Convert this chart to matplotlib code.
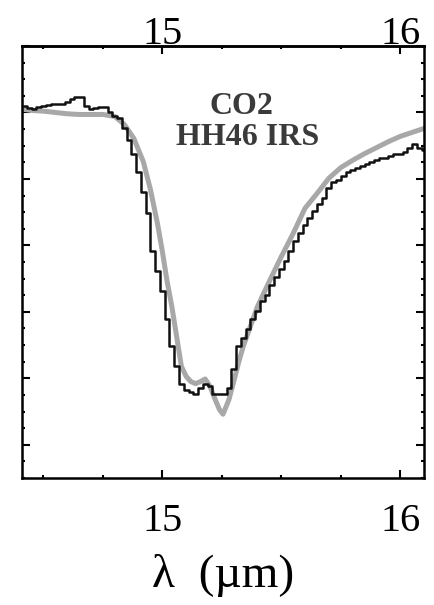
#!/usr/bin/env python3

import matplotlib.pyplot as plt
from matplotlib.ticker import FixedLocator, MultipleLocator, NullFormatter

# observed spectrum (histogram), wavelength in micron, normalised flux
obs_wave = [
    14.42, 14.44, 14.46, 14.48, 14.50, 14.52, 14.54, 14.56, 14.58, 14.60,
    14.62, 14.64, 14.66, 14.68, 14.70, 14.72, 14.74, 14.76, 14.78, 14.80,
    14.82, 14.84, 14.86, 14.88, 14.90, 14.92, 14.94, 14.96, 14.98, 15.00,
    15.02, 15.04, 15.06, 15.08, 15.10, 15.12, 15.14, 15.16, 15.18, 15.20,
    15.22, 15.24, 15.26, 15.28, 15.30, 15.32, 15.34, 15.36, 15.38, 15.40,
    15.42, 15.44, 15.46, 15.48, 15.50, 15.52, 15.54, 15.56, 15.58, 15.60,
    15.62, 15.64, 15.66, 15.68, 15.70, 15.72, 15.74, 15.76, 15.78, 15.80,
    15.82, 15.84, 15.86, 15.88, 15.90, 15.92, 15.94, 15.96, 15.98, 16.00,
    16.02, 16.04, 16.06, 16.08, 16.10,
]
obs_flux = [
    1.009, 1.006, 1.005, 1.008, 1.009, 1.011, 1.012, 1.012, 1.012, 1.015,
    1.020, 1.024, 1.023, 1.009, 1.005, 1.006, 1.008, 1.008, 1.000, 0.995,
    0.991, 0.977, 0.959, 0.938, 0.911, 0.881, 0.848, 0.791, 0.761, 0.731,
    0.689, 0.648, 0.618, 0.591, 0.583, 0.580, 0.576, 0.585, 0.592, 0.588,
    0.577, 0.576, 0.576, 0.585, 0.614, 0.648, 0.660, 0.674, 0.689, 0.701,
    0.716, 0.726, 0.741, 0.753, 0.765, 0.776, 0.791, 0.806, 0.818, 0.830,
    0.841, 0.851, 0.863, 0.872, 0.887, 0.895, 0.899, 0.905, 0.911, 0.914,
    0.917, 0.919, 0.922, 0.926, 0.928, 0.931, 0.932, 0.935, 0.937, 0.938,
    0.940, 0.946, 0.953, 0.947, 0.944,
]

# laboratory ice model
lab_wave = [
    14.41, 14.45, 14.50, 14.55, 14.60, 14.65, 14.70, 14.75, 14.80, 14.84,
    14.88, 14.92, 14.95, 14.98, 15.00, 15.02, 15.04, 15.06, 15.08, 15.10,
    15.12, 15.14, 15.16, 15.18, 15.20, 15.22, 15.24, 15.255, 15.28, 15.30,
    15.32, 15.34, 15.36, 15.40, 15.45, 15.50, 15.55, 15.60, 15.65, 15.70,
    15.75, 15.80, 15.85, 15.90, 15.95, 16.00, 16.05, 16.10,
]
lab_flux = [
    1.005, 1.003, 1.002, 1.000, 0.998, 0.997, 0.997, 0.997, 0.994, 0.982,
    0.961, 0.926, 0.884, 0.832, 0.791, 0.746, 0.708, 0.663, 0.618, 0.603,
    0.595, 0.592, 0.595, 0.599, 0.588, 0.570, 0.553, 0.546, 0.568, 0.595,
    0.623, 0.648, 0.668, 0.708, 0.746, 0.783, 0.818, 0.856, 0.878, 0.901,
    0.917, 0.928, 0.938, 0.947, 0.956, 0.964, 0.970, 0.976,
]

major_waves = [15, 16]

plt.rcParams["font.family"] = ["Liberation Serif", "DejaVu Serif"]

fig = plt.figure(figsize=(4.34, 6.05), dpi=100)
ax = fig.add_axes([22 / 434, 127 / 605, 402 / 434, 432 / 605])

ax.plot(lab_wave, lab_flux, color="#a8a8a8", lw=3.6, solid_capstyle="round")
ax.plot(obs_wave, obs_flux, color="#111111", lw=1.8, drawstyle="steps-mid")

ax.set_xlim(14.41, 16.10)
ax.set_ylim(0.45, 1.10)

ax.xaxis.set_major_locator(FixedLocator(major_waves))
ax.xaxis.set_minor_locator(MultipleLocator(0.25))
ax.yaxis.set_major_locator(MultipleLocator(0.1))
ax.yaxis.set_minor_locator(MultipleLocator(0.025))
ax.yaxis.set_major_formatter(NullFormatter())

ax.tick_params(which="both", direction="in", top=False, right=True, width=1.5)
ax.tick_params(which="major", length=6)
ax.tick_params(which="minor", length=2.5)
ax.tick_params(axis="x", which="major", labelsize=29, pad=18)

# top axis carries its own labels, sitting right on the frame
top = ax.secondary_xaxis("top")
top.xaxis.set_major_locator(FixedLocator(major_waves))
top.xaxis.set_minor_locator(MultipleLocator(0.25))
top.tick_params(which="both", direction="in", width=1.5)
top.tick_params(which="major", length=6, labelsize=29, pad=-5)
top.tick_params(which="minor", length=2.5)
top.spines["top"].set_linewidth(1.8)

for s in ax.spines.values():
    s.set_linewidth(1.8)

ax.set_xlabel("λ  (µm)", fontsize=34, labelpad=10)

ax.text(0.547, 0.861, "CO2", transform=ax.transAxes, ha="center",
        va="center", fontsize=23, color="#3a3a3a", fontweight="bold")
ax.text(0.562, 0.788, "HH46 IRS", transform=ax.transAxes, ha="center",
        va="center", fontsize=23, color="#3a3a3a", fontweight="bold")

fig.savefig("out.png", dpi=100)
